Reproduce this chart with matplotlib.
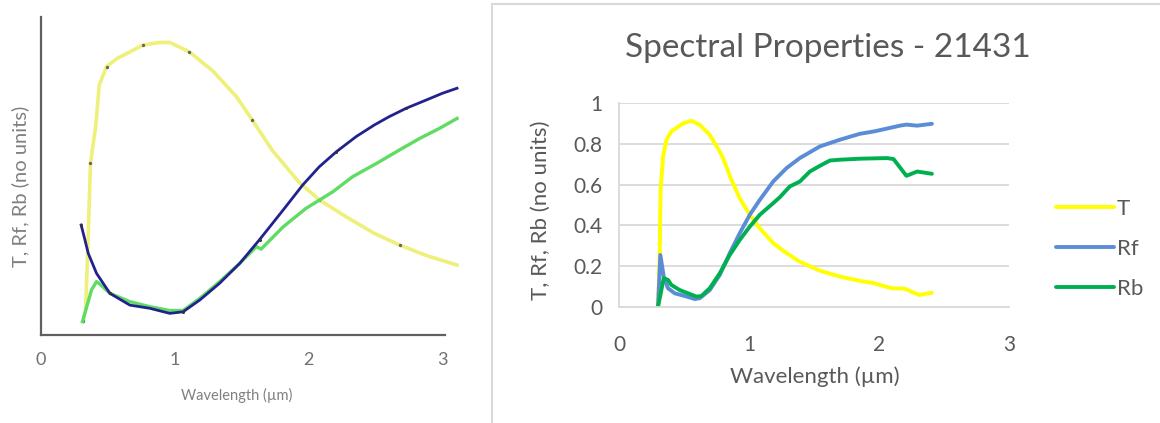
import matplotlib.pyplot as plt
from matplotlib.lines import Line2D

plt.rcParams['font.family'] = ['Lato', 'DejaVu Sans']

# left panel: digitised published curve (no y scale)
pub_T_x = [0.316, 0.333, 0.345, 0.37, 0.41, 0.435, 0.49, 0.57, 0.664, 0.763, 0.888, 0.963,
           1.11, 1.285, 1.46, 1.58, 1.73, 1.93, 2.08, 2.28, 2.49, 2.68, 2.88, 3.11]
pub_T = [0.044, 0.078, 0.21, 0.54, 0.66, 0.786, 0.844, 0.87, 0.89, 0.912, 0.92, 0.92,
         0.89, 0.83, 0.75, 0.676, 0.58, 0.48, 0.425, 0.372, 0.32, 0.283, 0.25, 0.22]
pub_Rf_x = [0.30, 0.328, 0.353, 0.415, 0.515, 0.664, 0.813, 0.963, 1.062, 1.187, 1.336, 1.485,
            1.634, 1.81, 1.957, 2.08, 2.207, 2.356, 2.49, 2.60, 2.73, 2.88, 3.0, 3.11]
pub_Rf = [0.346, 0.30, 0.257, 0.194, 0.131, 0.094, 0.084, 0.068, 0.073, 0.11, 0.163, 0.225,
          0.30, 0.393, 0.472, 0.529, 0.576, 0.624, 0.66, 0.686, 0.713, 0.739, 0.76, 0.776]
pub_Rb_x = [0.31, 0.335, 0.378, 0.415, 0.44, 0.515, 0.664, 0.813, 0.963, 1.062, 1.187, 1.336,
            1.485, 1.61, 1.645, 1.81, 1.98, 2.18, 2.33, 2.51, 2.68, 2.83, 2.98, 3.11]
pub_Rb = [0.042, 0.079, 0.142, 0.168, 0.16, 0.131, 0.105, 0.089, 0.077, 0.077, 0.115, 0.168,
          0.225, 0.278, 0.27, 0.34, 0.398, 0.45, 0.498, 0.54, 0.582, 0.618, 0.65, 0.681]

# right panel: Spectral Properties - 21431
T_x = [0.30, 0.313, 0.32, 0.339, 0.365, 0.403, 0.44, 0.493, 0.557, 0.621, 0.698, 0.775, 0.80,
       0.865, 0.929, 1.006, 1.083, 1.186, 1.289, 1.391, 1.545, 1.699, 1.853, 1.965, 2.096,
       2.195, 2.31, 2.407]
T = [0.0, 0.247, 0.574, 0.738, 0.82, 0.861, 0.877, 0.90, 0.913, 0.893, 0.844, 0.762, 0.73,
     0.623, 0.533, 0.452, 0.386, 0.313, 0.264, 0.222, 0.178, 0.149, 0.128, 0.116, 0.092,
     0.09, 0.059, 0.07]
Rf_x = [0.30, 0.318, 0.344, 0.377, 0.429, 0.506, 0.583, 0.621, 0.698, 0.775, 0.852, 0.929,
        1.006, 1.083, 1.186, 1.289, 1.391, 1.545, 1.699, 1.853, 1.965, 2.162, 2.21, 2.293, 2.407]
Rf = [0.0, 0.255, 0.149, 0.092, 0.067, 0.054, 0.039, 0.043, 0.083, 0.157, 0.264, 0.362,
      0.452, 0.525, 0.615, 0.681, 0.73, 0.787, 0.82, 0.849, 0.861, 0.889, 0.894, 0.889, 0.898]
Rb_x = [0.30, 0.344, 0.377, 0.403, 0.467, 0.544, 0.596, 0.634, 0.698, 0.775, 0.852, 0.929,
        1.006, 1.083, 1.186, 1.237, 1.314, 1.391, 1.468, 1.545, 1.622, 1.699, 1.853, 2.063,
        2.112, 2.211, 2.293, 2.407]
Rb = [0.0, 0.141, 0.133, 0.108, 0.083, 0.064, 0.051, 0.054, 0.092, 0.165, 0.255, 0.329,
      0.394, 0.452, 0.509, 0.538, 0.591, 0.615, 0.664, 0.692, 0.718, 0.722, 0.727, 0.73,
      0.725, 0.643, 0.664, 0.653]

fig = plt.figure(figsize=(11.6, 4.23), dpi=100)

# ---- left panel
ax1 = fig.add_axes([41/1160, 88/423, 404/1160, 318/423])
ax1.plot(pub_T_x, pub_T, color='#eef07a', lw=2.6, clip_on=False,
         marker='o', ms=1.4, mfc='#666', mec='#666', markevery=3)
ax1.plot(pub_Rb_x, pub_Rb, color='#5fdc62', lw=2.4, clip_on=False)
ax1.plot(pub_Rf_x, pub_Rf, color='#22228f', lw=2.0, clip_on=False,
         marker='o', ms=1.2, mfc='#333', mec='#333', markevery=4)
ax1.set_xlim(0, 3.02)
ax1.set_ylim(0, 1)
ax1.set_xticks([0, 1, 2, 3])
ax1.set_yticks([])
ax1.tick_params(axis='x', length=0, pad=12, labelsize=13, labelcolor='#707070')
for s in ['top', 'right']:
    ax1.spines[s].set_visible(False)
ax1.spines['left'].set_color('#606060')
ax1.spines['bottom'].set_color('#606060')
ax1.spines['left'].set_linewidth(1.6)
ax1.spines['bottom'].set_linewidth(1.6)
fig.text(237/1160, 1 - 395/423, 'Wavelength (µm)', ha='center', va='center',
         fontsize=10.5, color='#808080')
fig.text(20/1160, 1 - 186/423, 'T, Rf, Rb (no units)', ha='center', va='center',
         rotation=90, fontsize=14.5, color='#808080')

# ---- right panel frame
fig.add_artist(Line2D([492/1160, 492/1160], [0, 1 - 4/423], color='#d9d9d9', lw=1.5))
fig.add_artist(Line2D([492/1160, 1], [1 - 4/423, 1 - 4/423], color='#d9d9d9', lw=1.5))

ax2 = fig.add_axes([619/1160, 116/423, 390/1160, 204/423])
ax2.plot(T_x, T, color='#ffff00', lw=2.8, label='T', solid_capstyle='round')
ax2.plot(Rf_x, Rf, color='#5b8dd6', lw=2.8, label='Rf', solid_capstyle='round')
ax2.plot(Rb_x, Rb, color='#00b050', lw=2.8, label='Rb', solid_capstyle='round')
ax2.set_xlim(0, 3)
ax2.set_ylim(0, 1)
ax2.set_xticks([0, 1, 2, 3])
ax2.set_yticks([0, 0.2, 0.4, 0.6, 0.8, 1])
ax2.set_yticklabels(['0', '0.2', '0.4', '0.6', '0.8', '1'])
ax2.grid(axis='y', color='#d9d9d9', lw=1.3)
ax2.set_axisbelow(True)
ax2.tick_params(length=0, labelsize=15, labelcolor='#595959')
ax2.tick_params(axis='x', pad=20)
ax2.tick_params(axis='y', pad=12)
for s in ['top', 'right']:
    ax2.spines[s].set_visible(False)
for s in ['left', 'bottom']:
    ax2.spines[s].set_color('#d9d9d9')
    ax2.spines[s].set_linewidth(1.3)
fig.text(828/1160, 1 - 48/423, 'Spectral Properties - 21431', ha='center', va='center',
         fontsize=24, color='#595959')
fig.text(815/1160, 1 - 377/423, 'Wavelength (µm)', ha='center', va='center',
         fontsize=16, color='#595959')
fig.text(541/1160, 1 - 210/423, 'T, Rf, Rb (no units)', ha='center', va='center',
         rotation=90, fontsize=16, color='#595959')
ax2.legend(loc='center left', bbox_to_anchor=(1036/1160, 1 - 249/423),
           bbox_transform=fig.transFigure, frameon=False, fontsize=16,
           labelcolor='#595959', handlelength=2.6, handletextpad=0.15, labelspacing=0.9)

fig.savefig('out.png', dpi=100)
